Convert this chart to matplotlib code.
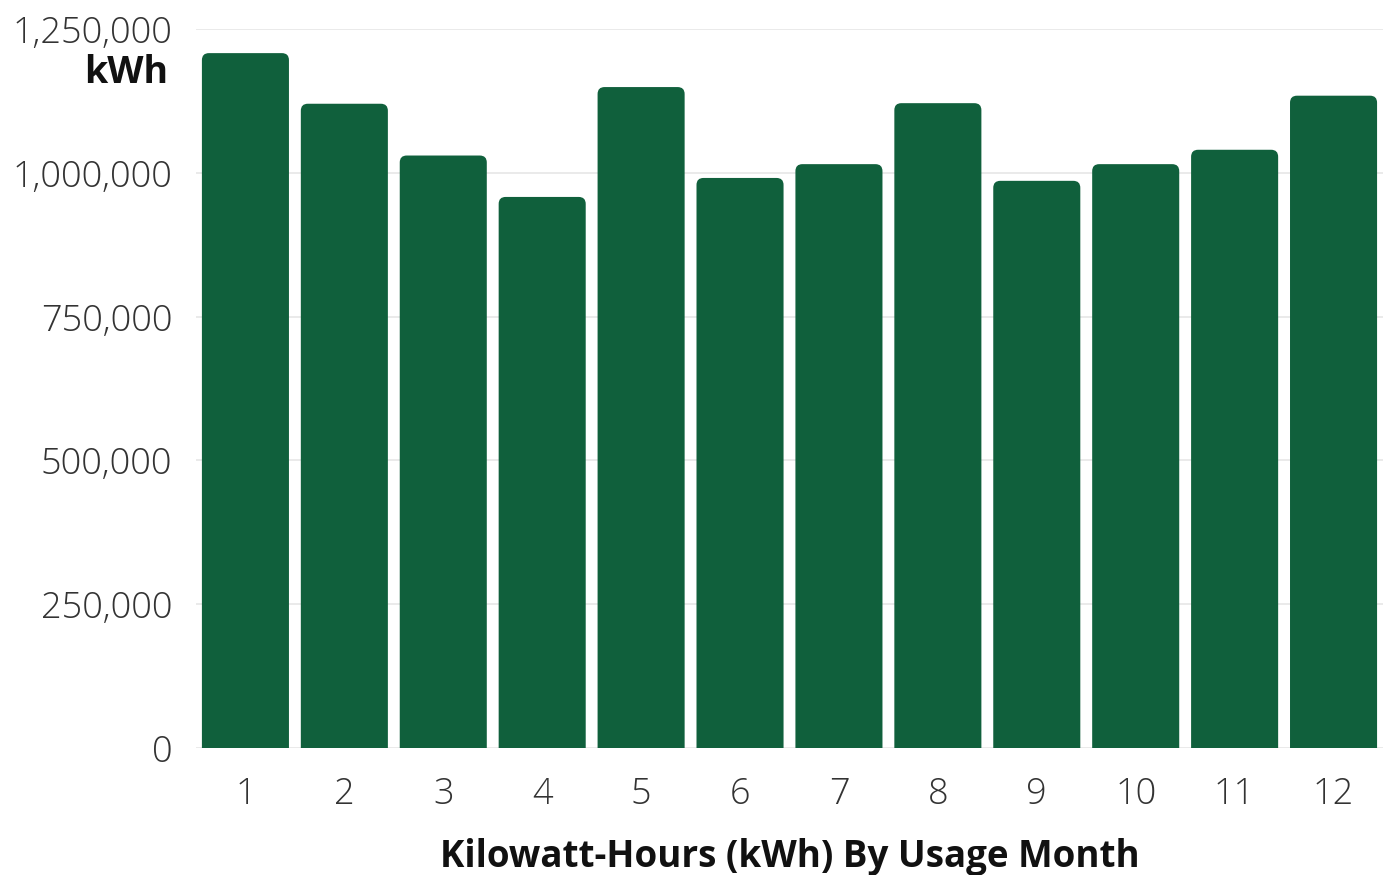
import matplotlib
matplotlib.use("Agg")
import matplotlib.pyplot as plt
from matplotlib.path import Path
from matplotlib.patches import PathPatch
from matplotlib.ticker import FuncFormatter

months = ["1", "2", "3", "4", "5", "6", "7", "8", "9", "10", "11", "12"]
kwh = [1208000, 1120000, 1030000, 958000, 1149000, 991000,
       1015000, 1121000, 986000, 1015000, 1040000, 1134000]
y_ticks = [0, 250000, 500000, 750000, 1000000, 1250000]

BAR_COLOR = "#10603C"
FONT = ["Open Sans", "DejaVu Sans"]

fig = plt.figure(figsize=(13.83, 8.75), dpi=100)
ax = fig.add_axes([0.1417, 0.1451, 0.8583, 0.8218])

x = list(range(len(months)))
bars = ax.bar(x, kwh, width=0.88, color=BAR_COLOR, zorder=2)
ax.set_xlim(-0.5, len(months) - 0.5)
ax.set_ylim(0, 1250000)

# replace bars with rounded-top versions
fig.canvas.draw()
r_px = 7.0
px_per_x = ax.transData.transform((1, 0))[0] - ax.transData.transform((0, 0))[0]
px_per_y = ax.transData.transform((0, 1e6))[1] - ax.transData.transform((0, 0))[1]
rx = r_px / px_per_x
ry = r_px / px_per_y * 1e6
for b in bars:
    x0, w, h = b.get_x(), b.get_width(), b.get_height()
    x1 = x0 + w
    verts = [(x0, 0), (x0, h - ry), (x0, h), (x0 + rx, h),
             (x1 - rx, h), (x1, h), (x1, h - ry), (x1, 0), (x0, 0)]
    codes = [Path.MOVETO, Path.LINETO, Path.CURVE3, Path.CURVE3,
             Path.LINETO, Path.CURVE3, Path.CURVE3, Path.LINETO, Path.CLOSEPOLY]
    ax.add_patch(PathPatch(Path(verts, codes), facecolor=BAR_COLOR,
                           edgecolor="none", zorder=2))
    b.set_visible(False)

ax.set_yticks(y_ticks)
ax.yaxis.set_major_formatter(FuncFormatter(lambda v, p: f"{int(v):,}"))
ax.set_xticks(x)
ax.set_xticklabels(months)
ax.grid(axis="y", color="#e6e6e6", linewidth=1.2, zorder=0)
for s in ax.spines.values():
    s.set_visible(False)
ax.tick_params(axis="both", length=0, labelsize=26, labelcolor="#333333")
ax.tick_params(axis="y", pad=17)
ax.tick_params(axis="x", pad=20)
for lbl in ax.get_xticklabels() + ax.get_yticklabels():
    lbl.set_family(FONT)
    lbl.set_fontweight("light")

ax.set_xlabel("Kilowatt-Hours (kWh) By Usage Month", fontsize=26.5,
              fontweight="bold", family=FONT, color="#111111", labelpad=18)
fig.text(168 / 1383, 1 - 73 / 875, "kWh", fontsize=27,
         fontweight="bold", family=FONT, color="#111111",
         ha="right", va="center")

fig.savefig("out.png", dpi=100)
